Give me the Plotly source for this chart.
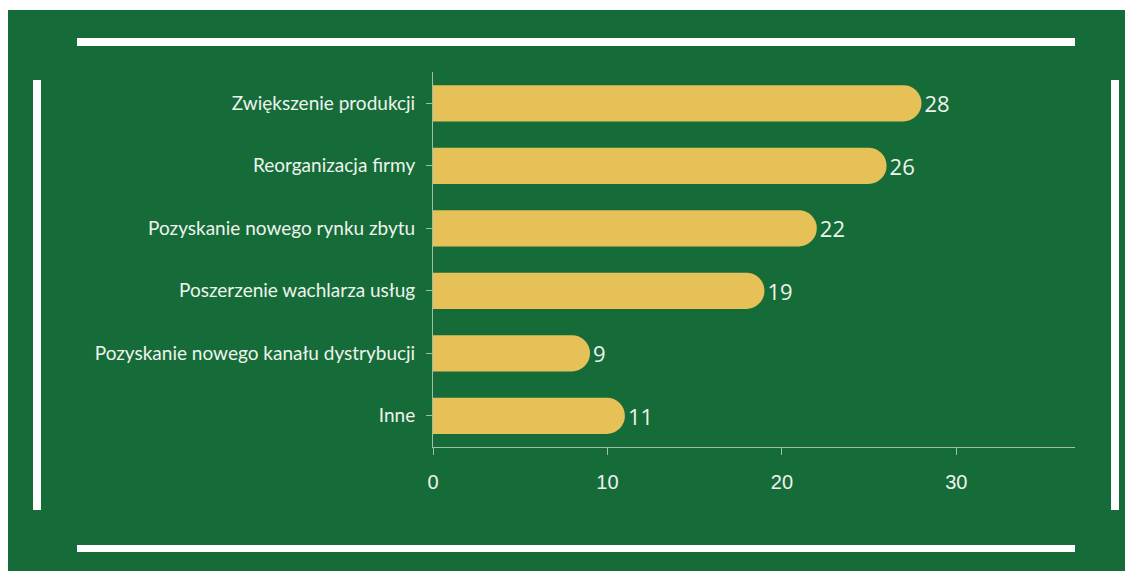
import plotly.graph_objects as go

categories = ["Zwiększenie produkcji", "Reorganizacja firmy", "Pozyskanie nowego rynku zbytu",
              "Poszerzenie wachlarza usług", "Pozyskanie nowego kanału dystrybucji", "Inne"]
values = [28, 26, 22, 19, 9, 11]
x_ticks = [0, 10, 20, 30]

GREEN = "#166c38"
GOLD = "#e5c158"
TXT = "#eef3ee"

OFF = 8  # page body margin
W, H = 1133 - OFF, 571 - OFF
L, R, T, B = 433 - OFF, 1075 - OFF, 72 - OFF, 447 - OFF  # plot area in figure pixels


def px(x):
    return (x - OFF - L) / (R - L)


def py(y):
    return (B - (y - OFF)) / (B - T)


fig = go.Figure(go.Bar(
    y=categories, x=values, orientation="h",
    marker=dict(color=GOLD, cornerradius="50%", line=dict(width=0)),
    width=0.58,
    text=[str(v) for v in values], textposition="outside",
    textfont=dict(family="Open Sans", size=22, color=TXT),
    cliponaxis=False,
))

shapes = []
# green panel
shapes.append(dict(type="rect", xref="paper", yref="paper", x0=px(7), x1=px(1140), y0=py(580), y1=py(10),
                   fillcolor=GREEN, line=dict(width=0), layer="below"))
# white frame bars
for (x0, x1, y0, y1) in [(77, 1075, 38, 46), (77, 1075, 545, 552), (33, 41, 80, 510), (1111, 1119, 80, 510)]:
    shapes.append(dict(type="rect", xref="paper", yref="paper", x0=px(x0), x1=px(x1), y0=py(y1), y1=py(y0),
                       fillcolor="white", line=dict(width=0), layer="below"))

fig.update_layout(
    width=W, height=H,
    margin=dict(l=L, r=W - R, t=T, b=H - B, pad=0),
    paper_bgcolor="white", plot_bgcolor="rgba(0,0,0,0)",
    shapes=shapes, showlegend=False,
    font=dict(family="Lato", color=TXT),
)
fig.update_xaxes(range=[0, 36.8], tickvals=x_ticks, showgrid=False, zeroline=False,
                 showline=True, linecolor="#9fbfa8", linewidth=1, ticks="outside", ticklen=7,
                 tickcolor="#9fbfa8", tickfont=dict(family="Liberation Sans", size=20, color=TXT),
                 ticklabelstandoff=10)
fig.update_yaxes(autorange="reversed", showgrid=False, zeroline=False, showline=True,
                 linecolor="#9fbfa8", linewidth=1, ticks="outside", ticklen=6, tickcolor="#9fbfa8",
                 tickfont=dict(family="Lato", size=19, color=TXT), ticklabelstandoff=7)

fig.write_html("out.html")
